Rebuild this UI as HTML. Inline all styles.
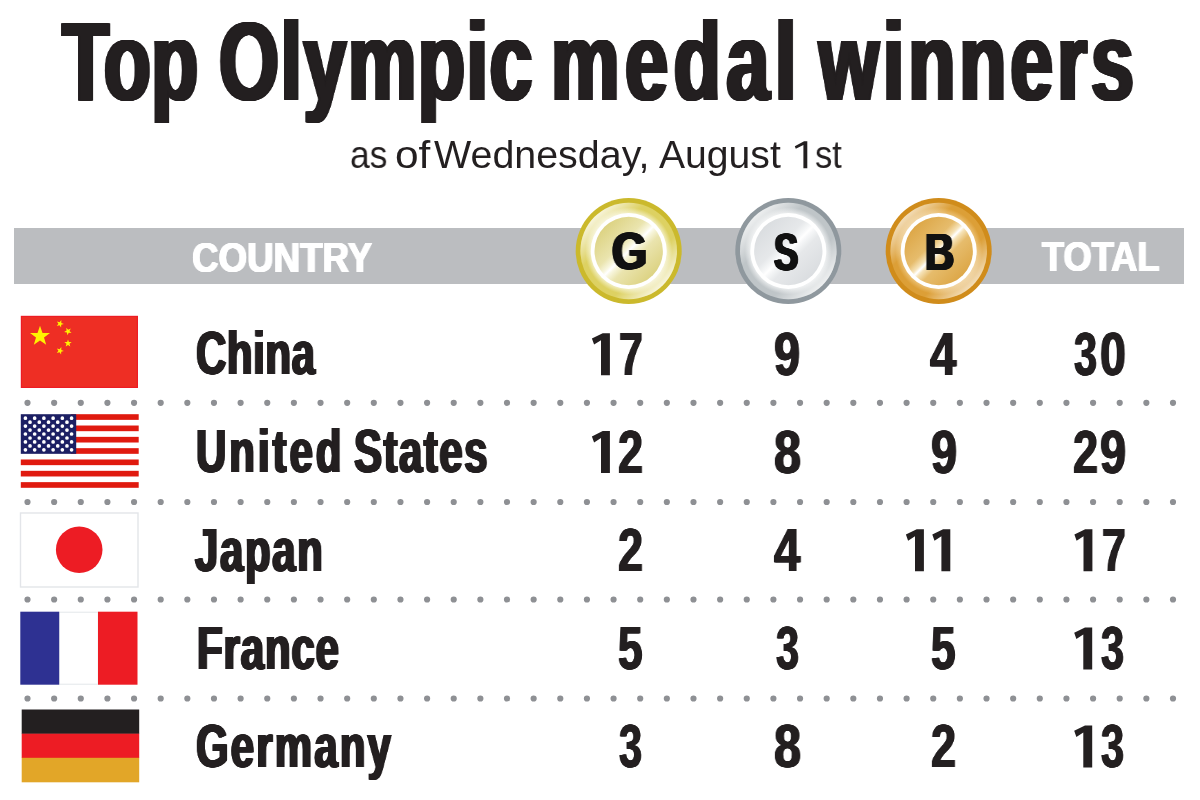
<!DOCTYPE html>
<html><head><meta charset="utf-8"><title>Top Olympic medal winners</title>
<style>
html,body{margin:0;padding:0;background:#fff}
body{width:1200px;height:800px;position:relative;overflow:hidden;font-family:"Liberation Sans",sans-serif}
#bar{position:absolute;left:13.5px;top:228.3px;width:1170.4px;height:55.4px;background:#bbbdc0}
svg{position:absolute;left:0;top:0}
.t{position:absolute;white-space:nowrap;line-height:1;transform-origin:0 0;will-change:transform}
.T{font-size:111.59px;font-weight:bold;color:#231f20;text-shadow:0.70px 0 #231f20,-0.70px 0 #231f20,1.40px 0 #231f20,-1.40px 0 #231f20,2.10px 0 #231f20,-2.10px 0 #231f20,2.80px 0 #231f20,-2.80px 0 #231f20,2.90px 0 #231f20,-2.90px 0 #231f20;}
.S{font-size:39.13px;font-weight:normal;color:#231f20;}
.H{font-size:42.03px;font-weight:bold;color:#fff;text-shadow:0.70px 0 #fff,-0.70px 0 #fff,0.84px 0 #fff,-0.84px 0 #fff;}
.M{font-size:51.88px;font-weight:bold;color:#111;text-shadow:0.70px 0 #111,-0.70px 0 #111,1.40px 0 #111,-1.40px 0 #111,1.82px 0 #111,-1.82px 0 #111;}
.C{font-size:60.87px;font-weight:bold;color:#231f20;text-shadow:0.70px 0 #231f20,-0.70px 0 #231f20,1.40px 0 #231f20,-1.40px 0 #231f20,1.58px 0 #231f20,-1.58px 0 #231f20;}
.N{font-size:60.87px;font-weight:bold;color:#231f20;text-shadow:0.70px 0 #231f20,-0.70px 0 #231f20,0.91px 0 #231f20,-0.91px 0 #231f20;}
</style></head><body>
<div id="bar"></div>
<svg width="1200" height="800" viewBox="0 0 1200 800">
<g stroke="#8e9094" stroke-width="6.2" stroke-linecap="round" stroke-dasharray="0 26.6395">
<path d="M27.5 402.8H1173.2"/>
<path d="M27.5 502H1173.2"/>
<path d="M27.5 599.5H1173.2"/>
<path d="M27.5 698.5H1173.2"/>
</g>
<rect x="20.8" y="315.8" width="117.2" height="72.2" fill="#ed1c24"/>
<rect x="22" y="317" width="114.8" height="69.8" fill="#ee2e24"/>
<g fill="#fff200">
<polygon points="40.0,325.8 42.5,332.9 50.0,333.1 44.0,337.6 46.2,344.8 40.0,340.5 33.8,344.8 36.0,337.6 30.0,333.1 37.5,332.9"/>
<polygon points="61.3,320.1 61.3,322.9 63.9,323.9 61.2,324.8 61.1,327.5 59.5,325.3 56.8,326.0 58.4,323.7 56.9,321.4 59.6,322.3"/>
<polygon points="70.8,328.5 69.5,331.1 71.5,333.1 68.7,332.7 67.4,335.2 66.9,332.4 64.1,331.9 66.6,330.6 66.2,327.8 68.2,329.8"/>
<polygon points="68.0,339.4 68.9,342.0 71.7,342.1 69.5,343.8 70.3,346.5 68.0,344.9 65.7,346.5 66.5,343.8 64.3,342.1 67.1,342.0"/>
<polygon points="61.3,347.1 61.3,349.9 63.9,350.9 61.2,351.8 61.1,354.5 59.5,352.3 56.8,353.0 58.4,350.7 56.9,348.4 59.6,349.3"/>
</g>
<rect x="20.8" y="414.2" width="117.9" height="73.6" fill="#fff"/>
<g fill="#e01a0f">
<rect x="70.8" y="414.20" width="67.9" height="5.66"/>
<rect x="70.8" y="425.52" width="67.9" height="5.66"/>
<rect x="70.8" y="436.85" width="67.9" height="5.66"/>
<rect x="70.8" y="448.17" width="67.9" height="5.66"/>
<rect x="20.8" y="459.49" width="117.9" height="5.66"/>
<rect x="20.8" y="470.82" width="117.9" height="5.66"/>
<rect x="20.8" y="482.14" width="117.9" height="5.66"/>
</g>
<rect x="20.8" y="414.2" width="55.4" height="39.63" fill="#1c1f63"/>
<g stroke="#fff" stroke-width="3.7" stroke-linecap="round">
<path d="M25.42 418.16H71.68" stroke-dasharray="0 9.233"/>
<path d="M30.03 422.13H67.07" stroke-dasharray="0 9.233"/>
<path d="M25.42 426.09H71.68" stroke-dasharray="0 9.233"/>
<path d="M30.03 430.05H67.07" stroke-dasharray="0 9.233"/>
<path d="M25.42 434.02H71.68" stroke-dasharray="0 9.233"/>
<path d="M30.03 437.98H67.07" stroke-dasharray="0 9.233"/>
<path d="M25.42 441.94H71.68" stroke-dasharray="0 9.233"/>
<path d="M30.03 445.90H67.07" stroke-dasharray="0 9.233"/>
<path d="M25.42 449.87H71.68" stroke-dasharray="0 9.233"/>
</g>
<rect x="20.5" y="513" width="117.5" height="74" fill="#fff" stroke="#e3e5e9" stroke-width="1.4"/>
<circle cx="79.2" cy="549.7" r="23.3" fill="#ed1c24"/>
<rect x="59" y="612.2" width="39.2" height="72" fill="#fff" stroke="#e3e7ea"/>
<rect x="20.3" y="611.7" width="38.9" height="73" fill="#2e3192"/>
<rect x="98" y="611.7" width="39.5" height="73" fill="#ed1c24"/>
<rect x="21.7" y="709.5" width="117.5" height="24.4" fill="#231f20"/>
<rect x="21.7" y="733.7" width="117.5" height="24.3" fill="#ed1c24"/>
<rect x="21.7" y="757.8" width="117.5" height="24.5" fill="#e2a628"/>
<defs>
<radialGradient id="gr" cx="628.7" cy="251" r="48.3" gradientUnits="userSpaceOnUse"><stop offset="0.76" stop-color="#f5f2cc"/><stop offset="0.9" stop-color="#ddd162"/></radialGradient>
<linearGradient id="gh" x1="0.1" y1="0.1" x2="0.9" y2="0.9"><stop offset="0.02" stop-color="#fff" stop-opacity="0.9"/><stop offset="0.3" stop-color="#fff" stop-opacity="0"/><stop offset="0.7" stop-color="#fff" stop-opacity="0"/><stop offset="0.98" stop-color="#fff" stop-opacity="0.9"/></linearGradient>
<linearGradient id="gd" x1="0.12" y1="0.12" x2="0.88" y2="0.88"><stop offset="0" stop-color="#dbd17e"/><stop offset="0.36" stop-color="#eae4ae"/><stop offset="0.46" stop-color="#f8f6de"/><stop offset="0.5" stop-color="#fff"/><stop offset="0.54" stop-color="#f8f6de"/><stop offset="0.64" stop-color="#eae4ae"/><stop offset="1" stop-color="#dbd17e"/></linearGradient>
</defs>
<circle cx="628.7" cy="251" r="53" fill="#cbb92c"/>
<circle cx="628.7" cy="251" r="48.3" fill="url(#gr)"/>
<circle cx="628.7" cy="251" r="48.3" fill="url(#gh)"/>
<circle cx="628.7" cy="251" r="38" fill="#fff"/>
<circle cx="628.7" cy="251" r="34.2" fill="url(#gd)"/>
<defs>
<radialGradient id="sr" cx="788.3" cy="251" r="48.3" gradientUnits="userSpaceOnUse"><stop offset="0.76" stop-color="#eef0f1"/><stop offset="0.9" stop-color="#bfc5c8"/></radialGradient>
<linearGradient id="sh" x1="0.1" y1="0.1" x2="0.9" y2="0.9"><stop offset="0.02" stop-color="#fff" stop-opacity="0.85"/><stop offset="0.3" stop-color="#fff" stop-opacity="0"/><stop offset="0.7" stop-color="#fff" stop-opacity="0"/><stop offset="0.98" stop-color="#fff" stop-opacity="0.85"/></linearGradient>
<linearGradient id="sd" x1="0.12" y1="0.12" x2="0.88" y2="0.88"><stop offset="0" stop-color="#d9dcdf"/><stop offset="0.36" stop-color="#e6e8ea"/><stop offset="0.46" stop-color="#f6f7f8"/><stop offset="0.5" stop-color="#fff"/><stop offset="0.54" stop-color="#f6f7f8"/><stop offset="0.64" stop-color="#e6e8ea"/><stop offset="1" stop-color="#d9dcdf"/></linearGradient>
</defs>
<circle cx="788.3" cy="251" r="53" fill="#8f989e"/>
<circle cx="788.3" cy="251" r="48.3" fill="url(#sr)"/>
<circle cx="788.3" cy="251" r="48.3" fill="url(#sh)"/>
<circle cx="788.3" cy="251" r="38" fill="#fff"/>
<circle cx="788.3" cy="251" r="34.2" fill="url(#sd)"/>
<defs>
<radialGradient id="zr" cx="938.7" cy="251" r="48.3" gradientUnits="userSpaceOnUse"><stop offset="0.76" stop-color="#edc47a"/><stop offset="0.9" stop-color="#dc9f37"/></radialGradient>
<linearGradient id="zh" x1="0.1" y1="0.1" x2="0.9" y2="0.9"><stop offset="0.02" stop-color="#fff" stop-opacity="0.75"/><stop offset="0.3" stop-color="#fff" stop-opacity="0"/><stop offset="0.7" stop-color="#fff" stop-opacity="0"/><stop offset="0.98" stop-color="#fff" stop-opacity="0.75"/></linearGradient>
<linearGradient id="zd" x1="0.12" y1="0.12" x2="0.88" y2="0.88"><stop offset="0" stop-color="#dca544"/><stop offset="0.36" stop-color="#e6bc6c"/><stop offset="0.46" stop-color="#f6e3b8"/><stop offset="0.5" stop-color="#fff"/><stop offset="0.54" stop-color="#f6e3b8"/><stop offset="0.64" stop-color="#e6bc6c"/><stop offset="1" stop-color="#dca544"/></linearGradient>
</defs>
<circle cx="938.7" cy="251" r="53" fill="#d08c1b"/>
<circle cx="938.7" cy="251" r="48.3" fill="url(#zr)"/>
<circle cx="938.7" cy="251" r="48.3" fill="url(#zh)"/>
<circle cx="938.7" cy="251" r="38" fill="#fff"/>
<circle cx="938.7" cy="251" r="34.2" fill="url(#zd)"/>
<g fill="#231f20">
<polygon points="609.9,375.2 609.9,333.2 602.7,333.2 591.9,338.5 594.1,344.6 601.0,340.2 601.0,375.2"/>
<polygon points="609.9,473.1 609.9,431.1 602.7,431.1 591.9,436.4 594.1,442.5 601.0,438.1 601.0,473.1"/>
<polygon points="923.9,571.3 923.9,529.3 916.7,529.3 905.9,534.6 908.1,540.7 915.0,536.3 915.0,571.3"/>
<polygon points="950.3,571.3 950.3,529.3 943.1,529.3 932.3,534.6 934.5,540.7 941.4,536.3 941.4,571.3"/>
<polygon points="1092.4,571.3 1092.4,529.3 1085.2,529.3 1074.4,534.6 1076.6,540.7 1083.5,536.3 1083.5,571.3"/>
<polygon points="1092.2,669.5 1092.2,627.5 1085.0,627.5 1074.2,632.8 1076.4,638.9 1083.3,634.5 1083.3,669.5"/>
<polygon points="1092.2,767.5 1092.2,725.5 1085.0,725.5 1074.2,730.8 1076.4,736.9 1083.3,732.5 1083.3,767.5"/>
<polygon points="807.3,168.3 807.3,141.3 804.1,141.3 794.8,146.3 795.8,148.8 803.4,145.0 803.4,168.3"/>
</g>
</svg>
<div class="t T" style="left:62.2px;top:6.4px;letter-spacing:0.56px;transform:scaleX(0.690)">Top</div>
<div class="t T" style="left:218.5px;top:6.4px;letter-spacing:2.32px;transform:scaleX(0.690)">Olympic</div>
<div class="t T" style="left:551.4px;top:6.4px;letter-spacing:8.28px;transform:scaleX(0.690)">medal</div>
<div class="t T" style="left:818.8px;top:6.4px;letter-spacing:5.78px;transform:scaleX(0.690)">winners</div>
<div class="t S" style="left:350.4px;top:134.9px;transform:scaleX(0.905)">as</div>
<div class="t S" style="left:394.8px;top:134.9px;transform:scaleX(1.084)">of</div>
<div class="t S" style="left:434.3px;top:134.9px;transform:scaleX(1.007)">Wednesday,</div>
<div class="t S" style="left:658.9px;top:134.9px;transform:scaleX(0.998)">August</div>
<div class="t S" style="left:814.5px;top:134.9px;transform:scaleX(0.880)">st</div>
<div class="t H" style="left:191.7px;top:236.5px;transform:scaleX(0.874)">COUNTRY</div>
<div class="t H" style="left:1042.2px;top:236.4px;transform:scaleX(0.863)">TOTAL</div>
<div class="t M" style="left:611.6px;top:226.3px;transform:scaleX(0.867)">G</div>
<div class="t M" style="left:773.6px;top:226.7px;transform:scaleX(0.700)">S</div>
<div class="t M" style="left:925.2px;top:226.6px;transform:scaleX(0.778)">B</div>
<div class="t C" style="left:196.0px;top:323.1px;letter-spacing:0.83px;transform:scaleX(0.690)">China</div>
<div class="t C" style="left:196.2px;top:421.3px;letter-spacing:4.30px;transform:scaleX(0.690)">United</div>
<div class="t C" style="left:354.3px;top:421.3px;letter-spacing:2.15px;transform:scaleX(0.690)">States</div>
<div class="t C" style="left:195.0px;top:519.6px;letter-spacing:2.34px;transform:scaleX(0.690)">Japan</div>
<div class="t C" style="left:196.8px;top:617.8px;letter-spacing:1.24px;transform:scaleX(0.690)">France</div>
<div class="t C" style="left:195.6px;top:715.8px;letter-spacing:3.10px;transform:scaleX(0.690)">Germany</div>
<div class="t N" style="left:619.1px;top:324.0px;transform:scaleX(0.703)">7</div>
<div class="t N" style="left:774.4px;top:324.0px;transform:scaleX(0.769)">9</div>
<div class="t N" style="left:930.1px;top:324.0px;transform:scaleX(0.777)">4</div>
<div class="t N" style="left:1073.7px;top:324.0px;transform:scaleX(0.679)">3</div>
<div class="t N" style="left:1100.3px;top:324.0px;transform:scaleX(0.763)">0</div>
<div class="t N" style="left:617.8px;top:421.9px;transform:scaleX(0.737)">2</div>
<div class="t N" style="left:774.0px;top:421.9px;transform:scaleX(0.797)">8</div>
<div class="t N" style="left:930.9px;top:421.9px;transform:scaleX(0.769)">9</div>
<div class="t N" style="left:1072.8px;top:421.9px;transform:scaleX(0.737)">2</div>
<div class="t N" style="left:1100.2px;top:421.9px;transform:scaleX(0.769)">9</div>
<div class="t N" style="left:617.8px;top:520.1px;transform:scaleX(0.737)">2</div>
<div class="t N" style="left:773.8px;top:520.1px;transform:scaleX(0.777)">4</div>
<div class="t N" style="left:1101.6px;top:520.1px;transform:scaleX(0.703)">7</div>
<div class="t N" style="left:618.0px;top:618.3px;transform:scaleX(0.725)">5</div>
<div class="t N" style="left:775.6px;top:618.3px;transform:scaleX(0.679)">3</div>
<div class="t N" style="left:931.3px;top:618.3px;transform:scaleX(0.725)">5</div>
<div class="t N" style="left:1101.0px;top:618.3px;transform:scaleX(0.679)">3</div>
<div class="t N" style="left:618.9px;top:716.3px;transform:scaleX(0.679)">3</div>
<div class="t N" style="left:773.8px;top:716.3px;transform:scaleX(0.797)">8</div>
<div class="t N" style="left:931.1px;top:716.3px;transform:scaleX(0.737)">2</div>
<div class="t N" style="left:1101.0px;top:716.3px;transform:scaleX(0.679)">3</div>
</body></html>
